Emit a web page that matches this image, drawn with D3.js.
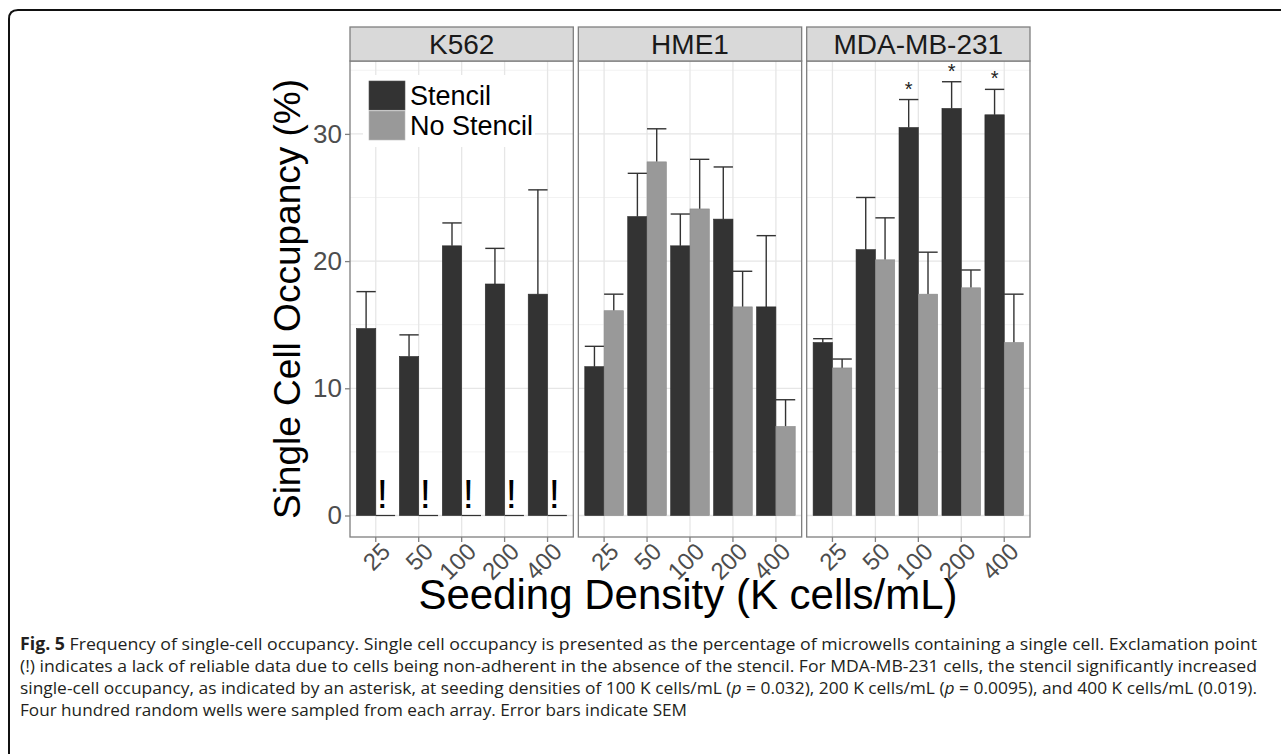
<!DOCTYPE html>
<html>
<head>
<meta charset="utf-8">
<script src="https://cdn.jsdelivr.net/npm/d3@7"></script>
<style>
  body { margin: 0; background: #fff; }
  svg { display: block; }
</style>
</head>
<body>
<div id="chart"></div>
<script>
// data
var cellLines = ["K562", "HME1", "MDA-MB-231"];
var densities = ["25", "50", "100", "200", "400"];
var groups = ["Stencil", "No Stencil"];

// mean single cell occupancy (%), one row per cell line
var stencilMean = [
  [14.7, 12.5, 21.2, 18.2, 17.4],
  [11.7, 23.5, 21.2, 23.3, 16.4],
  [13.6, 20.9, 30.5, 32.0, 31.5]
];
var stencilSem = [
  [2.9, 1.7, 1.8, 2.8, 8.2],
  [1.6, 3.4, 2.5, 4.1, 5.6],
  [0.3, 4.1, 2.2, 2.1, 2.0]
];
var noStencilMean = [
  [0, 0, 0, 0, 0],
  [16.1, 27.8, 24.1, 16.4, 7.0],
  [11.6, 20.1, 17.4, 17.9, 13.6]
];
var noStencilSem = [
  [0, 0, 0, 0, 0],
  [1.3, 2.6, 3.9, 2.8, 2.1],
  [0.7, 3.3, 3.3, 1.4, 3.8]
];
// "!" = no reliable data (K562 without stencil), "*" = significant (MDA-MB-231)
var noDataFlags = [
  [true, true, true, true, true],
  [false, false, false, false, false],
  [false, false, false, false, false]
];
var sigFlags = [
  [false, false, false, false, false],
  [false, false, false, false, false],
  [false, false, true, true, true]
];
var yTicks = [0, 10, 20, 30];
var yMinor = [5, 15, 25, 35];

var captionLines = [
  [["b", "Fig. 5"], ["n", " Frequency of single-cell occupancy. Single cell occupancy is presented as the percentage of microwells containing a single cell. Exclamation point"]],
  [["n", "(!) indicates a lack of reliable data due to cells being non-adherent in the absence of the stencil. For MDA-MB-231 cells, the stencil significantly increased"]],
  [["n", "single-cell occupancy, as indicated by an asterisk, at seeding densities of 100 K cells/mL ("], ["i", "p"], ["n", " = 0.032), 200 K cells/mL ("], ["i", "p"], ["n", " = 0.0095), and 400 K cells/mL (0.019)."]],
  [["n", "Four hundred random wells were sampled from each array. Error bars indicate SEM"]]
];
var captionWidths = [1237, 1237, 1237, 667];

var W = 1281, H = 754;
var colors = {"Stencil": "#333333", "No Stencil": "#999999"};
var font = "Liberation Sans, Arial, sans-serif";

var svg = d3.select("#chart").append("svg")
  .attr("width", W)
  .attr("height", H);

// frame around figure (only top and left edges are in view)
svg.append("path")
  .attr("d", "M9,754 L9,19 Q9,10 18,10 L1281,10")
  .attr("fill", "none")
  .attr("stroke", "#111")
  .attr("stroke-width", 2);

var plotLeft = 350, plotRight = 1030;
var panelTop = 61, panelBottom = 537, stripTop = 27;

var facet = d3.scaleBand().domain(cellLines).range([plotLeft, plotRight]).paddingInner(0.022);
var y = d3.scaleLinear().domain([-1.69, 35.73]).range([panelBottom, panelTop]);

cellLines.forEach(function(line, li) {
  var x0 = facet(line), pw = facet.bandwidth();
  var x = d3.scaleBand().domain(densities).range([x0, x0 + pw]).paddingInner(0).paddingOuter(0.1);
  var bw = x.bandwidth();
  var xs = d3.scaleBand().domain(groups).range([0.05 * bw, 0.95 * bw]);

  var g = svg.append("g");

  g.append("rect")
    .attr("x", x0).attr("y", panelTop)
    .attr("width", pw).attr("height", panelBottom - panelTop)
    .attr("fill", "#fff");

  // gridlines
  g.selectAll(".minor").data(yMinor).enter().append("line")
    .attr("x1", x0).attr("x2", x0 + pw)
    .attr("y1", function(d) { return y(d); }).attr("y2", function(d) { return y(d); })
    .attr("stroke", "#f2f2f2").attr("stroke-width", 1);
  g.selectAll(".major").data(yTicks).enter().append("line")
    .attr("x1", x0).attr("x2", x0 + pw)
    .attr("y1", function(d) { return y(d); }).attr("y2", function(d) { return y(d); })
    .attr("stroke", "#e6e6e6").attr("stroke-width", 1.3);
  g.selectAll(".vgrid").data(densities).enter().append("line")
    .attr("x1", function(d) { return x(d) + bw / 2; })
    .attr("x2", function(d) { return x(d) + bw / 2; })
    .attr("y1", panelTop).attr("y2", panelBottom)
    .attr("stroke", "#e6e6e6").attr("stroke-width", 1.3);

  // legend sits in the first panel, on a white box
  if (li === 0) {
    var lg = g.append("g");
    lg.append("rect").attr("x", 363).attr("y", 75).attr("width", 172).attr("height", 72).attr("fill", "#fff");
    groups.forEach(function(gr, gi) {
      lg.append("rect")
        .attr("x", 369).attr("y", 81 + gi * 30)
        .attr("width", 36).attr("height", 29)
        .attr("fill", colors[gr])
        .attr("stroke", gi ? "#bbb" : "#555").attr("stroke-width", 0.6);
      lg.append("text")
        .attr("x", 410).attr("y", 95.5 + gi * 30)
        .attr("dominant-baseline", "central")
        .style("font-family", font).style("font-size", "27px")
        .attr("fill", "#000")
        .text(gr);
    });
  }

  var rows = densities.map(function(d, i) {
    return [
      {dens: d, grp: "Stencil", v: stencilMean[li][i], se: stencilSem[li][i], sig: sigFlags[li][i], nd: false},
      {dens: d, grp: "No Stencil", v: noStencilMean[li][i], se: noStencilSem[li][i], sig: false, nd: noDataFlags[li][i]}
    ];
  });
  var flat = [].concat.apply([], rows);
  function cx(d) { return x(d.dens) + xs(d.grp) + xs.bandwidth() / 2; }

  // error bars (upper half only, the rest hides behind the bar)
  var eb = g.selectAll(".eb").data(flat.filter(function(d) { return d.se > 0; })).enter().append("g");
  eb.append("line")
    .attr("x1", cx).attr("x2", cx)
    .attr("y1", function(d) { return y(d.v); })
    .attr("y2", function(d) { return y(d.v + d.se); })
    .attr("stroke", "#333").attr("stroke-width", 1.4);
  eb.append("line")
    .attr("x1", function(d) { return x(d.dens) + xs(d.grp); })
    .attr("x2", function(d) { return x(d.dens) + xs(d.grp) + xs.bandwidth(); })
    .attr("y1", function(d) { return y(d.v + d.se); })
    .attr("y2", function(d) { return y(d.v + d.se); })
    .attr("stroke", "#333").attr("stroke-width", 1.4);

  // bars
  g.selectAll(".bar").data(flat.filter(function(d) { return d.v > 0; })).enter().append("rect")
    .attr("x", function(d) { return x(d.dens) + xs(d.grp); })
    .attr("y", function(d) { return y(d.v); })
    .attr("width", xs.bandwidth())
    .attr("height", function(d) { return y(0) - y(d.v); })
    .attr("fill", function(d) { return colors[d.grp]; })
    .attr("stroke", function(d) { return d.grp === "Stencil" ? "#2a2a2a" : "#8a8a8a"; })
    .attr("stroke-width", 0.6);

  // zero height bars show as a flat line
  g.selectAll(".zero").data(flat.filter(function(d) { return d.v === 0; })).enter().append("line")
    .attr("x1", function(d) { return x(d.dens) + xs(d.grp); })
    .attr("x2", function(d) { return x(d.dens) + xs(d.grp) + xs.bandwidth(); })
    .attr("y1", y(0)).attr("y2", y(0))
    .attr("stroke", "#333").attr("stroke-width", 1.2);

  g.selectAll(".nd").data(flat.filter(function(d) { return d.nd; })).enter().append("text")
    .attr("x", function(d) { return cx(d) - 3; })
    .attr("y", y(0.6))
    .attr("text-anchor", "middle")
    .style("font-family", font).style("font-size", "40px")
    .attr("fill", "#000")
    .text("!");

  g.selectAll(".sig").data(flat.filter(function(d) { return d.sig; })).enter().append("text")
    .attr("x", cx)
    .attr("y", function(d) { return y(d.v + d.se) - 4; })
    .attr("text-anchor", "middle")
    .style("font-family", font).style("font-size", "20px")
    .attr("fill", "#222")
    .text("*");

  // panel border
  g.append("rect")
    .attr("x", x0).attr("y", panelTop)
    .attr("width", pw).attr("height", panelBottom - panelTop)
    .attr("fill", "none").attr("stroke", "#7f7f7f").attr("stroke-width", 1.3);

  // strip
  g.append("rect")
    .attr("x", x0).attr("y", stripTop)
    .attr("width", pw).attr("height", panelTop - stripTop)
    .attr("fill", "#d9d9d9").attr("stroke", "#7f7f7f").attr("stroke-width", 1.3);
  g.append("text")
    .attr("x", x0 + pw / 2).attr("y", (stripTop + panelTop) / 2)
    .attr("text-anchor", "middle").attr("dominant-baseline", "central")
    .style("font-family", font).style("font-size", "28px")
    .attr("fill", "#1a1a1a")
    .text(line);

  // x axis
  var xAxis = g.append("g").attr("transform", "translate(0," + panelBottom + ")")
    .call(d3.axisBottom(x).tickSizeOuter(0).tickSizeInner(5).tickPadding(3));
  xAxis.select(".domain").remove();
  xAxis.selectAll(".tick line").attr("stroke", "#7f7f7f").attr("stroke-width", 1.3);
  xAxis.selectAll(".tick text")
    .style("font-family", font).style("font-size", "24px")
    .attr("fill", "#4d4d4d")
    .attr("text-anchor", "end")
    .attr("dy", null).attr("y", 0)
    .attr("transform", "translate(16,16) rotate(-45)");

  if (li === 0) {
    var yAxis = g.append("g").attr("transform", "translate(" + x0 + ",0)")
      .call(d3.axisLeft(y).tickValues(yTicks).tickSizeOuter(0).tickSizeInner(5).tickPadding(3));
    yAxis.select(".domain").remove();
    yAxis.selectAll(".tick line").attr("stroke", "#7f7f7f").attr("stroke-width", 1.3);
    yAxis.selectAll(".tick text")
      .style("font-family", font).style("font-size", "26px")
      .attr("fill", "#4d4d4d");
  }
});

// axis titles
svg.append("text")
  .attr("transform", "translate(287," + ((panelTop + panelBottom) / 2) + ") rotate(-90)")
  .attr("text-anchor", "middle").attr("dominant-baseline", "central")
  .style("font-family", font).style("font-size", "37px")
  .attr("fill", "#000")
  .text("Single Cell Occupancy (%)");

svg.append("text")
  .attr("x", 688).attr("y", 609)
  .attr("text-anchor", "middle")
  .style("font-family", font).style("font-size", "42px")
  .attr("fill", "#000")
  .text("Seeding Density (K cells/mL)");

// caption
var cap = svg.append("g");
captionLines.forEach(function(parts, i) {
  var t = cap.append("text")
    .attr("x", 20).attr("y", 650 + i * 22)
    .attr("textLength", captionWidths[i])
    .attr("lengthAdjust", "spacingAndGlyphs")
    .style("font-family", "Open Sans, Noto Sans, sans-serif").style("font-size", "17px")
    .attr("fill", "#231f20");
  parts.forEach(function(p) {
    t.append("tspan")
      .attr("font-weight", p[0] === "b" ? "bold" : null)
      .attr("font-style", p[0] === "i" ? "italic" : null)
      .text(p[1]);
  });
});
</script>
</body>
</html>
